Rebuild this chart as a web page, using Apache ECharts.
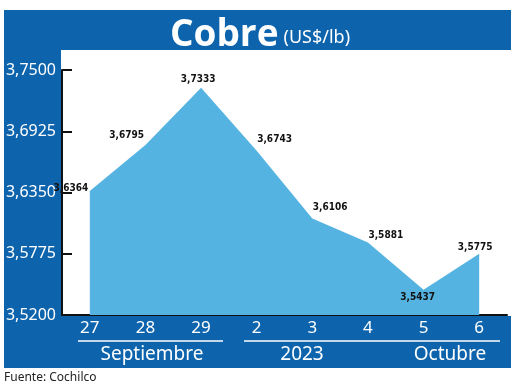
<!DOCTYPE html>
<html><head><meta charset="utf-8">
<script src="https://cdn.jsdelivr.net/npm/echarts@6/dist/echarts.min.js"></script>
<style>html,body{margin:0;padding:0;background:#fff}#c{width:520px;height:389px}</style>
</head><body><div id="c"></div>
<script>
const days = ['27','28','29','2','3','4','5','6'];
const prices = [3.6364, 3.6795, 3.7333, 3.6743, 3.6106, 3.5881, 3.5437, 3.5775];
const yTicks = [3.52, 3.5775, 3.635, 3.6925, 3.75];
const monthLabels = ['Septiembre', '2023', 'Octubre'];
const titleMain = 'Cobre';
const titleUnit = '(US$/lb)';
const source = 'Fuente: Cochilco';

const BLUE = '#0d64ad';
const fmt = v => v.toFixed(4).replace('.', ',');
const labelPlace = [
  {position:'left', distance:1, offset:[0,-3]},
  {position:'left', distance:1, offset:[0,-10]},
  {position:'top', distance:3, offset:[-3,0]},
  {position:'right', distance:0, offset:[0,-11]},
  {position:'right', distance:0, offset:[0,-11]},
  {position:'right', distance:0, offset:[0,-7]},
  {position:'bottom', distance:2, offset:[-6,0]},
  {position:'top', distance:1, offset:[-4,0]}
];

const chart = echarts.init(document.getElementById('c'), null, {renderer:'canvas'});
chart.setOption({
  animation:false,
  backgroundColor:'#fff',
  title:{
    text:'{a|' + titleMain + '} {b|' + titleUnit + '}',
    left:'center', top:10,
    textStyle:{
      rich:{
        a:{fontFamily:'Open Sans', fontWeight:'bold', fontSize:37, color:'#fff', lineHeight:40},
        b:{fontFamily:'Noto Sans', fontWeight:'normal', fontSize:18, color:'#fff', lineHeight:40, padding:[6,0,0,0]}
      }
    }
  },
  graphic:[
    {type:'rect', z:-1, shape:{x:4,y:10,width:507,height:40}, style:{fill:BLUE}},
    {type:'rect', z:-1, shape:{x:4,y:10,width:57,height:358}, style:{fill:BLUE}},
    {type:'rect', z:-1, shape:{x:4,y:316,width:507,height:52}, style:{fill:BLUE}},
    {type:'line', shape:{x1:78,y1:341,x2:223,y2:341}, style:{stroke:'#fff', lineWidth:1.5}},
    {type:'line', shape:{x1:244,y1:341,x2:500,y2:341}, style:{stroke:'#fff', lineWidth:1.5}},
    {type:'text', x:152, y:355, style:{text:monthLabels[0], fill:'#fff', font:'19px "Noto Sans"', textAlign:'center', textVerticalAlign:'middle'}},
    {type:'text', x:302, y:355, style:{text:monthLabels[1], fill:'#fff', font:'19px "Noto Sans"', textAlign:'center', textVerticalAlign:'middle'}},
    {type:'text', x:450, y:355, style:{text:monthLabels[2], fill:'#fff', font:'19px "Noto Sans"', textAlign:'center', textVerticalAlign:'middle'}},
    {type:'text', x:4, y:378, style:{text:source, fill:'#222', font:'12px "Noto Sans"', textVerticalAlign:'middle'}}
  ],
  grid:[
    {left:62, right:13, top:70, bottom:74},
    {left:62, width:10, top:70, bottom:74}
  ],
  xAxis:[{
    type:'category', data:days, boundaryGap:true,
    axisLine:{lineStyle:{color:'#111', width:2}},
    axisTick:{show:false},
    axisLabel:{color:'#fff', fontFamily:'Noto Sans', fontSize:17, margin:5}
  },{
    gridIndex:1, type:'value', show:false
  }],
  yAxis:[{
    type:'value', min:yTicks[0], max:yTicks[yTicks.length-1],
    axisLine:{show:true, lineStyle:{color:'#111', width:2}},
    axisTick:{show:false},
    axisLabel:{color:'#fff', fontFamily:'Noto Sans', fontSize:16, margin:6, formatter:fmt, customValues:yTicks},
    splitLine:{show:false}
  },{
    gridIndex:1, type:'value', min:yTicks[0], max:yTicks[yTicks.length-1],
    axisLine:{show:false},
    axisTick:{show:false, customValues:yTicks},
    axisLabel:{show:false, customValues:yTicks},
    splitLine:{show:true, lineStyle:{color:'#111', width:2}}
  }],
  series:[{
    type:'line',
    data:prices.map((v,i)=>({value:v, label:labelPlace[i]})),
    symbol:'circle', symbolSize:1, showSymbol:true,
    itemStyle:{color:'rgba(0,0,0,0)', borderWidth:0},
    lineStyle:{width:0},
    areaStyle:{color:'#55b3e2', opacity:1, origin:'start'},
    z:1,
    label:{show:true, formatter:p=>fmt(p.value), color:'#111', fontFamily:'Liberation Sans Narrow, DejaVu Sans Condensed', fontWeight:'bold', fontSize:10}
  }]
});
</script></body></html>
